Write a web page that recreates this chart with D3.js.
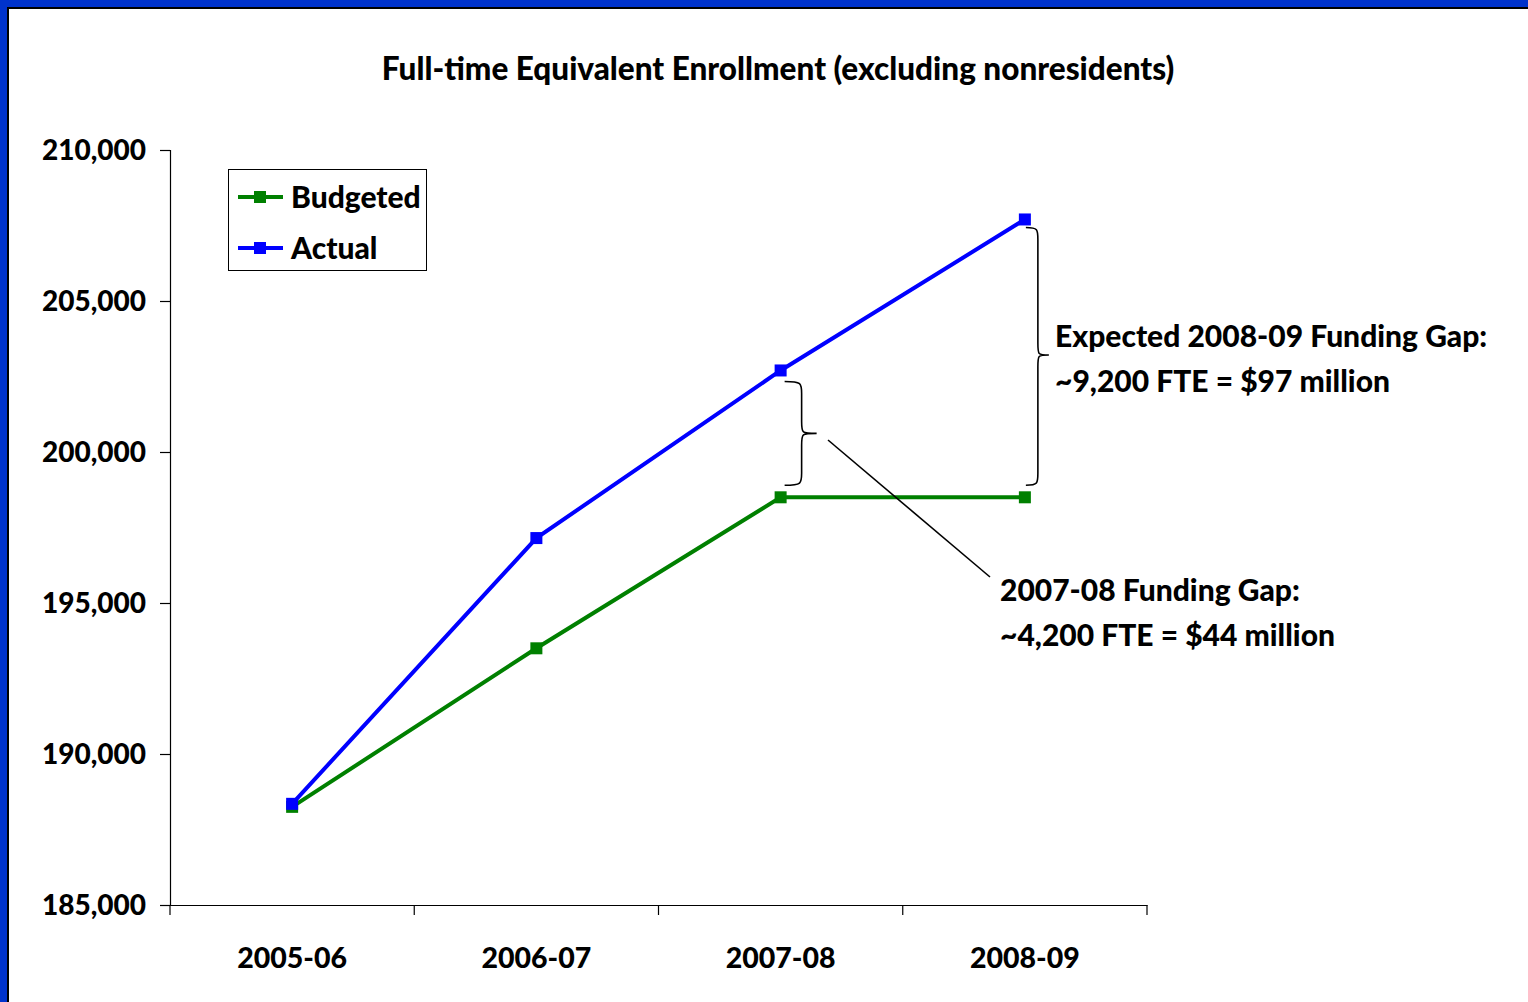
<!DOCTYPE html>
<html><head><meta charset="utf-8">
<script src="https://cdn.jsdelivr.net/npm/d3@7"></script>
<style>
html,body{margin:0;padding:0;background:#fff;}
svg{display:block;}
text{font-family:Lato,"Open Sans",sans-serif;font-weight:900;fill:#000;}
</style></head><body>
<script>
const categories = ["2005-06","2006-07","2007-08","2008-09"];
const budgeted = [188250, 193500, 198500, 198500];
const actual   = [188350, 197150, 202700, 207700];
const yTicks = [185000,190000,195000,200000,205000,210000];
const seriesNames = ["Budgeted","Actual"];
const seriesColors = ["#008000","#0000ff"];
const titleText = "Full-time Equivalent Enrollment (excluding nonresidents)";
const gap0708 = ["2007-08 Funding Gap:", "~4,200 FTE = $44 million"];
const gap0809 = ["Expected 2008-09 Funding Gap:", "~9,200 FTE = $97 million"];

const W = 1528, H = 1002;
const svg = d3.select("body").append("svg").attr("width", W).attr("height", H);

// frame
svg.append("rect").attr("x",0).attr("y",0).attr("width",W).attr("height",7).attr("fill","#0033cc");
svg.append("rect").attr("x",0).attr("y",0).attr("width",7).attr("height",H).attr("fill","#0033cc");
svg.append("rect").attr("x",7).attr("y",7).attr("width",W).attr("height",2).attr("fill","#000");
svg.append("rect").attr("x",7).attr("y",7).attr("width",2).attr("height",H).attr("fill","#000");

const x = d3.scaleBand().domain(categories).range([170, 1147]);
const y = d3.scaleLinear().domain([185000, 210000]).range([905, 150]);
const cx = d => x(d) + x.bandwidth()/2;

svg.append("text").attr("x", 778).attr("y", 80).attr("text-anchor","middle")
  .style("font-size","31.5px").text(titleText);

// y axis
const yAxis = svg.append("g").attr("transform","translate(170,0)")
  .call(d3.axisLeft(y).tickValues(yTicks).tickFormat(d3.format(",")).tickSizeOuter(0).tickSize(10).tickPadding(14));
yAxis.select(".domain").attr("stroke","#000").attr("stroke-width",1.2);
yAxis.selectAll(".tick line").attr("stroke","#000").attr("stroke-width",1.2);
yAxis.selectAll(".tick text").style("font-size","28px").attr("dy","0.35em");

// x axis
const xAxis = svg.append("g").attr("transform","translate(0,905)")
  .call(d3.axisBottom(x).tickSize(0).tickPadding(43));
xAxis.select(".domain").attr("stroke","#000").attr("stroke-width",1.2);
xAxis.selectAll(".tick text").style("font-size","28.5px");
// category boundary ticks
const bounds = categories.map(c => x(c)).concat([x(categories[categories.length-1]) + x.bandwidth()]);
svg.append("g").selectAll("line").data(bounds).join("line")
  .attr("x1", d=>d).attr("x2", d=>d).attr("y1",905).attr("y2",915)
  .attr("stroke","#000").attr("stroke-width",1.2);

// series
const line = d3.line().x((d,i)=>cx(categories[i])).y(d=>y(d));
const series = [budgeted, actual];
series.forEach((s,k) => {
  svg.append("path").attr("d", line(s)).attr("fill","none")
    .attr("stroke", seriesColors[k]).attr("stroke-width",4);
  svg.append("g").selectAll("rect").data(s).join("rect")
    .attr("x",(d,i)=>cx(categories[i])-6).attr("y",d=>y(d)-6)
    .attr("width",12).attr("height",12).attr("fill",seriesColors[k]);
});

// legend
const lg = svg.append("g");
lg.append("rect").attr("x",228.5).attr("y",169.5).attr("width",198).attr("height",101)
  .attr("fill","#fff").attr("stroke","#000").attr("stroke-width",1);
seriesNames.forEach((n,k)=>{
  const ly = 197 + k*51;
  lg.append("line").attr("x1",238).attr("x2",283).attr("y1",ly).attr("y2",ly)
    .attr("stroke",seriesColors[k]).attr("stroke-width",4);
  lg.append("rect").attr("x",254).attr("y",ly-6).attr("width",12).attr("height",12).attr("fill",seriesColors[k]);
  lg.append("text").attr("x",291).attr("y",ly).attr("dy","0.35em").style("font-size","30px").text(n);
});

// braces
function brace(xb, y0, y1, ym, a, w) {
  const r = 12;
  return `M${xb},${y0} C${xb+a},${y0} ${xb+a},${y0+2} ${xb+a},${y0+r}
    L${xb+a},${ym-r} C${xb+a},${ym} ${xb+a},${ym} ${xb+w},${ym}
    C${xb+a},${ym} ${xb+a},${ym} ${xb+a},${ym+r}
    L${xb+a},${y1-r} C${xb+a},${y1-2} ${xb+a},${y1} ${xb},${y1}`;
}
const bx3 = cx(categories[2]), bx4 = cx(categories[3]);
const s0 = y(actual[2])+11, s1 = y(budgeted[2])-12;
svg.append("path").attr("d", brace(bx3+4, s0, s1, (s0+s1)/2, 17, 32))
  .attr("fill","none").attr("stroke","#000").attr("stroke-width",1.6);
svg.append("path").attr("d", brace(bx4+1, y(actual[3])+8, y(budgeted[3])-12, 355, 12, 23))
  .attr("fill","none").attr("stroke","#000").attr("stroke-width",1.6);

// leader line
svg.append("line").attr("x1",828).attr("y1",440).attr("x2",990).attr("y2",577)
  .attr("stroke","#000").attr("stroke-width",1.6);

// annotation text
gap0809.forEach((t,i)=>svg.append("text").attr("x",1055).attr("y",347+i*45).style("font-size","30px").text(t));
gap0708.forEach((t,i)=>svg.append("text").attr("x",1000).attr("y",601+i*45).style("font-size","30px").text(t));
</script>
</body></html>
